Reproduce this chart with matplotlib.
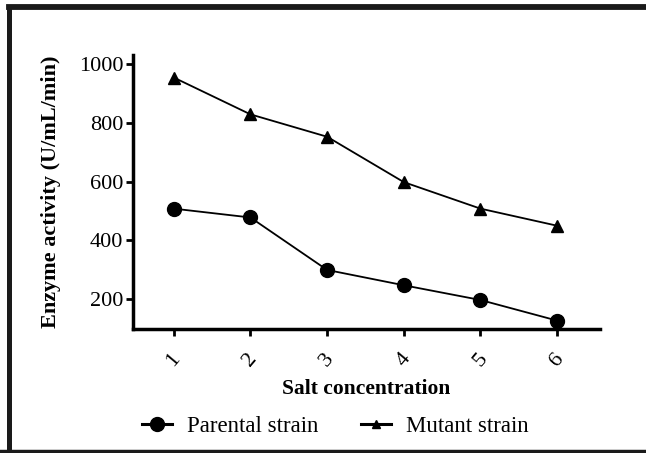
import matplotlib
matplotlib.use('Agg')
import matplotlib.pyplot as plt
from matplotlib.lines import Line2D

plt.rcParams['font.family'] = 'Liberation Serif'

salt = [1, 2, 3, 4, 5, 6]
parental = [508, 478, 300, 248, 198, 128]
mutant = [953, 828, 752, 598, 508, 450]
yticks = [200, 400, 600, 800, 1000]

fig = plt.figure(figsize=(6.46, 4.53), dpi=100)
ax = fig.add_axes([0.206, 0.274, 0.723, 0.605])

ax.plot(salt, parental, 'k-', marker='o', markersize=10, linewidth=1.3)
ax.plot(salt, mutant, 'k-', marker='^', markersize=8, linewidth=1.3)

ax.set_xlim(0.47, 6.56)
ax.set_ylim(100, 1030)
ax.set_xticks(salt)
ax.set_xticklabels([str(s) for s in salt], rotation=50, fontsize=16,
                   ha='center')
ax.set_yticks(yticks)
ax.tick_params(axis='y', labelsize=16, width=2, length=5, pad=2)
ax.tick_params(axis='x', width=2, length=5, pad=10)

for s in ['top', 'right']:
    ax.spines[s].set_visible(False)
for s in ['left', 'bottom']:
    ax.spines[s].set_linewidth(2.5)

ax.set_xlabel('Salt concentration', fontsize=15.5, fontweight='bold', labelpad=6)
ax.set_ylabel('Enzyme activity (U/mL/min)', fontsize=16, fontweight='bold',
              labelpad=13)

handles = [Line2D([], [], color='k', linewidth=2.2, marker='o', markersize=10),
           Line2D([], [], color='k', linewidth=2.2, marker='^', markersize=6)]
fig.legend(handles, ['Parental strain', 'Mutant strain'], loc='center',
           bbox_to_anchor=(0.519, 0.058), ncol=2, frameon=False, fontsize=16.5,
           handlelength=1.3, columnspacing=1.9, handletextpad=0.65)

# frame (right side is cut off in the original)
fig.lines.append(Line2D([0.0147, 0.0147], [0.0, 0.985], transform=fig.transFigure,
                        color='#1a1a1a', linewidth=3.6))
fig.lines.append(Line2D([0.0147, 1.0], [0.9845, 0.9845], transform=fig.transFigure,
                        color='#1a1a1a', linewidth=4.2))
fig.lines.append(Line2D([0.0, 1.0], [0.003, 0.003], transform=fig.transFigure,
                        color='#1a1a1a', linewidth=3.2))

fig.savefig('out.png', dpi=100)
